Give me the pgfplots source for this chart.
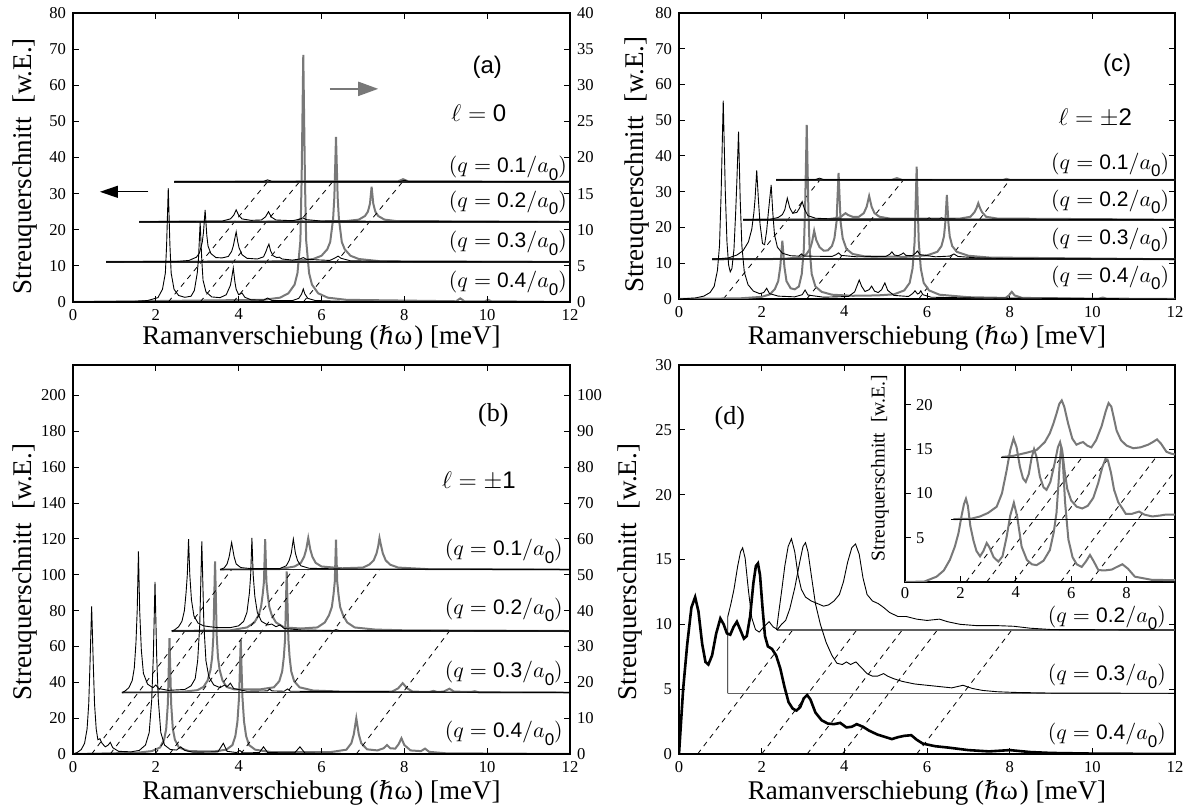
\documentclass[border=0pt]{standalone}
\usepackage{fontspec}
\setmainfont{Liberation Serif}
\newfontfamily\sfnum{Liberation Sans}
\newfontfamily\dvs{DejaVu Serif}
\usepackage{pgfplots}
\pgfplotsset{compat=1.18}
\usetikzlibrary{arrows.meta}
\definecolor{cg}{RGB}{120,120,120}
\newcommand{\ql}[1]{$(q = \mbox{\sfnum #1}/a\raisebox{-0.8ex}{\fontsize{8.5}{9}\sfnum 0})$}
\newcommand{\xl}{Ramanverschiebung ({\dvs\fontsize{12.5}{15}\selectfont ℏ}ω\kern1pt) [meV]}
\pgfplotsset{
  every axis/.append style={scale only axis, tick align=inside, major tick length=3.2pt,
    axis line style={line width=1pt}, every tick/.append style={line width=0.5pt, black},
    tick label style={font=\fontsize{8.3}{10}\selectfont},
    /pgf/number format/assume math mode=true,
    label style={font=\fontsize{13.5}{16}\selectfont}},
}
\tikzset{
  blk/.style={black, line width=0.45pt},
  gry/.style={cg, line width=1pt},
  base/.style={black!85, line width=0.9pt},
  dsh/.style={black, line width=0.4pt, dash pattern=on 2.6pt off 2.4pt},
  qlab/.style={font=\fontsize{10.5}{12}\selectfont},
}
\begin{document}
\begin{tikzpicture}
\useasboundingbox (0,0) rectangle (593pt,406pt);
%================ (a) right (gray) =================
\begin{axis}[at={(36.5pt,255pt)}, anchor=south west, width=248.5pt, height=144.5pt,
  xmin=0, xmax=12, ymin=0, ymax=40, hide x axis, axis y line*=right, ytick={0,5,...,40}]
\addplot[gry] coordinates {(0,0) (4.6,0.3) (5.0,0.6) (5.2,1.2) (5.35,2.4) (5.42,4) (5.49,8.5) (5.52,17) (5.56,34.2) (5.6,17) (5.63,8.5) (5.7,4) (5.77,2.4) (5.92,1.2) (6.15,0.6) (6.6,0.3) (9.25,0.1) (9.35,0.5) (9.45,0.1) (9.95,0.1) (10.02,0.3) (10.1,0.1) (12,0)};
\addplot[gry] coordinates {(0.8,5.55) (5.3,5.65) (5.8,5.95) (6.0,6.4) (6.14,7.3) (6.21,8.3) (6.28,11.5) (6.31,14.5) (6.35,22.85) (6.39,14.5) (6.42,11.5) (6.49,8.3) (6.56,7.3) (6.7,6.4) (6.9,5.95) (7.4,5.65) (12,5.55)};
\addplot[gry] coordinates {(1.6,11.1) (5.4,11.15) (5.48,11.5) (5.56,11.15) (6.6,11.2) (6.9,11.4) (7.05,11.9) (7.12,12.5) (7.17,13.6) (7.21,15.95) (7.25,13.6) (7.3,12.5) (7.37,11.9) (7.52,11.4) (7.8,11.2) (12,11.1)};
\addplot[gry] coordinates {(2.45,16.65) (7.85,16.7) (7.97,17.0) (8.09,16.7) (12,16.65)};
\draw[cg, line width=1pt, -{Triangle[length=10pt,width=7pt]}] (6.2,29.5) -- (7.37,29.5);
\end{axis}
%================ (a) left =================
\begin{axis}[at={(36.5pt,255pt)}, anchor=south west, width=248.5pt, height=144.5pt,
  xmin=0, xmax=12, ymin=0, ymax=80, xtick={0,2,...,12}, ytick={0,10,...,80}, ytick pos=left,
  xlabel={\xl}, ylabel={Streuquerschnitt\ \ [w.E.]},
  xlabel style={at={(axis description cs:0.5,-0.125)}, anchor=center},
  ylabel style={at={(axis description cs:-0.097,0.47)}, anchor=center}]
\draw[dsh] (2.3,0) -- (4.7,33.3);
\draw[dsh] (3.07,0) -- (5.47,33.3);
\draw[dsh] (3.87,0) -- (6.27,33.3);
\draw[dsh] (5.56,0) -- (7.96,33.3);
\draw[base] (0.8,11.1) -- (12,11.1);
\draw[base] (1.6,22.2) -- (12,22.2);
\draw[base] (2.45,33.3) -- (12,33.3);
\addplot[blk] coordinates {(0,0) (1.5,0.15) (1.8,0.4) (2.05,1.2) (2.16,3.5) (2.23,8) (2.26,15.7) (2.3,31.5) (2.34,15.7) (2.37,8) (2.44,3.5) (2.55,1.8) (2.7,1.3) (2.85,1.6) (2.93,3.2) (3.0,8) (3.03,12) (3.07,22) (3.11,11.5) (3.14,6) (3.21,2.8) (3.35,1.4) (3.55,1.2) (3.7,2.0) (3.8,4.6) (3.83,6.5) (3.87,9.4) (3.91,5.5) (3.94,3.5) (4.0,2.0) (4.08,2.5) (4.15,1.3) (4.3,0.6) (4.6,0.5) (4.7,1.1) (4.8,0.4) (5.3,0.4) (5.45,1.0) (5.52,2.2) (5.56,3.6) (5.6,2.2) (5.67,1.0) (5.85,0.4) (6.5,0.2) (8,0.1) (12,0)};
\addplot[blk] coordinates {(0.8,11.1) (2.5,11.2) (2.8,11.5) (2.98,12.4) (3.05,13.5) (3.12,16.5) (3.15,19.2) (3.19,25.5) (3.23,18.5) (3.26,15.5) (3.33,13.4) (3.45,12.3) (3.6,12.2) (3.75,12.6) (3.83,14) (3.87,15.5) (3.9,17.2) (3.94,19.4) (3.98,16.5) (4.01,15) (4.08,13.1) (4.2,12.1) (4.45,11.9) (4.6,12.5) (4.66,14) (4.69,15) (4.73,16) (4.77,14.2) (4.83,12.8) (4.92,12.3) (4.98,12.4) (5.05,11.9) (5.3,11.6) (5.48,11.9) (5.56,12.3) (5.64,11.8) (6.2,11.5) (6.33,12.2) (6.4,12.7) (6.47,12.1) (6.7,11.4) (8,11.2) (12,11.1)};
\addplot[blk] coordinates {(1.6,22.2) (3.6,22.4) (3.8,23) (3.88,24) (3.94,25.5) (4.0,24) (4.08,23) (4.3,22.6) (4.55,22.7) (4.65,23.6) (4.72,25) (4.79,23.5) (4.9,22.7) (5.3,22.5) (5.47,22.9) (5.55,23.3) (5.63,22.8) (6,22.4) (12,22.2)};
\addplot[blk] coordinates {(2.45,33.3) (4.6,33.4) (4.7,33.8) (4.8,33.4) (7.9,33.4) (8.0,33.7) (8.1,33.4) (12,33.3)};
\draw[black, line width=0.6pt, -{Triangle[length=9pt,width=6pt]}] (1.82,30.5) -- (0.65,30.5);
\node[font=\fontsize{12}{14}\sfnum] at (10.0,65) {(a)};
\node[font=\fontsize{12}{14}\selectfont] at (9.8,52.3) {$\ell = \mbox{\sfnum 0}$};
\node[qlab] at (10.5,37) {\ql{0.1}};
\node[qlab] at (10.5,27.4) {\ql{0.2}};
\node[qlab] at (10.5,16.3) {\ql{0.3}};
\node[qlab] at (10.5,5.2) {\ql{0.4}};
\end{axis}
%================ (c) =================
\begin{axis}[at={(339.5pt,256.5pt)}, anchor=south west, width=248pt, height=143pt,
  xmin=0, xmax=12, ymin=0, ymax=80, xtick={0,2,...,12}, ytick={0,10,...,80},
  xlabel={\xl}, ylabel={Streuquerschnitt\ \ [w.E.]},
  xlabel style={at={(axis description cs:0.5,-0.136)}, anchor=center},
  ylabel style={at={(axis description cs:-0.085,0.47)}, anchor=center}]
\draw[dsh] (1.07,0) -- (3.41,33.3);
\draw[dsh] (3.09,0) -- (5.43,33.3);
\draw[dsh] (5.8,0) -- (8.0,33.3);
\addplot[gry] coordinates {(0,0) (1.5,0.2) (2.0,0.6) (2.2,1.3) (2.32,2.8) (2.4,5) (2.45,9) (2.5,16.3) (2.55,9) (2.6,5) (2.7,3) (2.8,2.7) (2.9,3.5) (2.97,7) (3.02,14) (3.05,25) (3.09,48.7) (3.13,25) (3.16,14) (3.21,7) (3.3,3.5) (3.45,2) (3.7,1.2) (4.2,0.9) (4.8,1.0) (5.2,1.3) (5.45,2.4) (5.58,4.5) (5.65,8.5) (5.7,16) (5.75,37) (5.8,16) (5.85,8.5) (5.92,4.5) (6.05,2.4) (6.3,1.2) (7.0,0.5) (7.9,0.3) (7.98,1) (8.05,2) (8.12,1) (8.3,0.3) (10.15,0.1) (10.25,0.4) (10.35,0.1) (12,0)};
\addplot[gry] coordinates {(0.8,11.1) (2.5,11.2) (2.9,11.6) (3.08,12.5) (3.17,14) (3.22,16) (3.27,19.1) (3.32,16.5) (3.4,14.5) (3.5,13.5) (3.6,13.6) (3.7,14.8) (3.76,17) (3.81,21.5) (3.86,35.3) (3.91,21.5) (3.96,17) (4.05,14) (4.2,12.6) (4.5,11.9) (5.5,11.8) (6.0,12.2) (6.25,13.2) (6.35,14.8) (6.41,17.5) (6.44,21) (6.48,29.1) (6.52,21) (6.55,17.5) (6.61,14.8) (6.72,13.2) (7.0,12.1) (7.5,11.6) (12,11.1)};
\addplot[gry] coordinates {(1.55,22.2) (3.6,22.3) (3.9,22.8) (3.97,23.5) (4.03,24) (4.09,23.5) (4.2,23) (4.35,23) (4.47,24) (4.54,25.8) (4.6,28.8) (4.66,25.8) (4.73,24) (4.85,23) (5.1,22.5) (6.8,22.5) (7.05,23) (7.15,24.3) (7.2,25.5) (7.24,26.8) (7.28,25.5) (7.33,24.3) (7.43,23) (7.7,22.5) (12,22.2)};
\addplot[gry] coordinates {(2.35,33.3) (5.15,33.35) (5.27,33.8) (5.39,33.35) (7.85,33.35) (7.92,33.6) (8.0,33.35) (12,33.3)};
\draw[base] (0.8,11.1) -- (12,11.1);
\draw[base] (1.55,22.2) -- (12,22.2);
\draw[base] (2.35,33.3) -- (12,33.3);
\addplot[blk] coordinates {(0,0) (0.4,0.3) (0.6,0.8) (0.75,1.8) (0.85,3.5) (0.93,8) (0.98,15) (1.02,30) (1.07,55.5) (1.12,30) (1.16,16) (1.2,9.5) (1.24,7.6) (1.28,8.5) (1.33,14) (1.37,24) (1.40,33) (1.44,46.8) (1.48,28) (1.52,15) (1.58,7.5) (1.67,4) (1.8,2.2) (1.95,1.5) (2.05,1.8) (2.12,3) (2.19,1.5) (2.4,0.8) (2.8,0.6) (2.98,1.2) (3.05,2.5) (3.12,1.1) (3.5,0.5) (4.1,0.7) (4.25,2) (4.31,3.8) (4.36,5.3) (4.42,3.5) (4.5,2.1) (4.6,2.6) (4.66,3.6) (4.73,2.2) (4.82,1.8) (4.9,2.6) (4.98,4.5) (5.05,2.4) (5.2,1) (5.55,0.7) (5.65,1.5) (5.71,2.3) (5.77,1.4) (5.81,1.6) (5.85,2.3) (5.9,1.2) (6.1,0.5) (7,0.3) (12,0)};
\addplot[blk] coordinates {(0.8,11.1) (1.2,11.5) (1.4,12.3) (1.55,13.5) (1.68,16) (1.76,19.5) (1.81,24) (1.84,28) (1.88,36) (1.92,28) (1.96,21) (2.02,15.5) (2.07,15.2) (2.12,19) (2.16,24) (2.19,27.5) (2.23,31.9) (2.27,24) (2.31,18) (2.38,14.5) (2.5,12.8) (2.7,12.1) (2.9,12) (2.96,12.6) (3.02,12) (3.7,11.9) (3.8,12.4) (3.86,12.9) (3.92,12.2) (4.3,11.8) (5.0,11.9) (5.1,12.5) (5.15,13.2) (5.21,12.3) (5.3,12.1) (5.38,12.5) (5.43,12.9) (5.49,12.2) (5.65,12.1) (5.72,12.8) (5.77,13.4) (5.83,12.4) (6.2,11.8) (6.55,12) (6.65,12.6) (6.75,11.9) (7.2,11.5) (8,11.3) (12,11.1)};
\addplot[blk] coordinates {(1.55,22.2) (2.2,22.3) (2.4,22.8) (2.5,23.6) (2.56,25) (2.62,28.2) (2.68,25.5) (2.75,24) (2.85,24.2) (2.92,25.5) (2.98,27.2) (3.04,25) (3.12,23.3) (3.3,22.6) (3.7,22.4) (6.0,22.4) (6.05,22.7) (6.1,22.4) (6.3,22.4) (6.35,22.7) (6.4,22.4) (12,22.2)};
\addplot[blk] coordinates {(2.35,33.3) (3.3,33.4) (3.4,33.8) (3.5,33.4) (12,33.3)};
\node[font=\fontsize{12}{14}\sfnum] at (10.6,65.5) {(c)};
\node[font=\fontsize{12}{14}\selectfont] at (10.07,50.6) {$\ell = \pm\mbox{\sfnum 2}$};
\node[qlab] at (10.43,37.5) {\ql{0.1}};
\node[qlab] at (10.43,27.2) {\ql{0.2}};
\node[qlab] at (10.43,16.5) {\ql{0.3}};
\node[qlab] at (10.43,5.9) {\ql{0.4}};
\end{axis}
%================ (b) right (gray) =================
\begin{axis}[at={(36.5pt,29pt)}, anchor=south west, width=248.5pt, height=194.5pt,
  xmin=0, xmax=12, ymin=0, ymax=108.5, hide x axis, axis y line*=right, ytick={0,10,...,100}]
\addplot[gry] coordinates {(0,0) (1.5,0.3) (1.9,0.8) (2.1,1.8) (2.2,4) (2.25,7) (2.29,14) (2.33,32.3) (2.37,14) (2.41,7) (2.46,4) (2.56,1.8) (2.8,0.8) (3.4,0.7) (3.7,1.2) (3.85,2.5) (3.92,5) (3.97,9) (4.01,16) (4.05,31.85) (4.09,16) (4.13,9) (4.18,5) (4.25,2.5) (4.4,1.2) (4.8,0.5) (6.2,0.5) (6.6,1.2) (6.72,3) (6.78,5.5) (6.84,10) (6.9,5.5) (6.96,3) (7.1,1.3) (7.35,1.0) (7.5,1.6) (7.58,2.5) (7.66,1.6) (7.78,1.5) (7.86,2.7) (7.93,4.4) (8.0,2.5) (8.15,1) (8.4,0.8) (8.5,1.5) (8.6,0.6) (9,0.2) (12,0)};
\addplot[gry] coordinates {(1.18,17.15) (2.6,17.3) (3.0,17.8) (3.15,18.7) (3.25,20.5) (3.32,23.5) (3.36,27) (3.39,33) (3.43,53.7) (3.47,33) (3.5,27) (3.54,23.5) (3.61,20.5) (3.71,18.7) (3.9,18) (4.5,18) (4.85,18.6) (4.98,20.3) (5.05,23) (5.09,27) (5.12,32) (5.16,50.95) (5.2,32) (5.23,27) (5.27,23) (5.34,20.3) (5.47,18.6) (5.8,17.7) (6.5,17.4) (7.7,17.4) (7.85,18.3) (7.96,19.75) (8.07,18.3) (8.2,17.4) (8.6,17.3) (8.7,17.6) (8.8,17.3) (8.95,17.4) (9.09,18.2) (9.2,17.4) (9.6,17.3) (9.7,17.5) (9.8,17.2) (12,17.15)};
\addplot[gry] coordinates {(2.38,34.3) (3.8,34.5) (4.2,35.3) (4.38,36.7) (4.48,38.7) (4.54,41) (4.58,44.5) (4.61,48) (4.64,59.95) (4.67,48) (4.7,44.5) (4.74,41) (4.8,38.7) (4.9,36.7) (5.1,35.3) (5.5,35) (5.9,35.3) (6.08,36.7) (6.18,38.7) (6.25,41) (6.29,44.5) (6.32,48) (6.35,59.8) (6.38,48) (6.41,44.5) (6.45,41) (6.52,38.7) (6.62,36.7) (6.8,35.3) (7.3,34.7) (8,34.5) (12,34.3)};
\addplot[gry] coordinates {(3.55,51.45) (5.0,51.6) (5.35,52.3) (5.5,53.3) (5.58,55) (5.63,57) (5.68,60.25) (5.73,57) (5.78,55) (5.86,53.3) (6.0,52.3) (6.5,51.8) (7.0,52.0) (7.15,52.8) (7.26,54) (7.33,56) (7.37,58) (7.4,60.25) (7.44,58) (7.48,56) (7.55,54) (7.66,52.8) (7.85,52) (8.5,51.6) (12,51.45)};
\end{axis}
%================ (b) left =================
\begin{axis}[at={(36.5pt,29pt)}, anchor=south west, width=248.5pt, height=194.5pt,
  xmin=0, xmax=12, ymin=0, ymax=217, xtick={0,2,...,12}, ytick={0,20,...,200}, ytick pos=left,
  xlabel={\xl}, ylabel={Streuquerschnitt\ \ [w.E.]},
  xlabel style={at={(axis description cs:0.5,-0.1)}, anchor=center},
  ylabel style={at={(axis description cs:-0.097,0.468)}, anchor=center}]
\draw[dsh] (0.45,0) -- (3.83,102.9);
\draw[dsh] (0.9,0) -- (3.15,68.6);
\draw[dsh] (1.98,0) -- (5.32,102.9);
\draw[dsh] (2.33,0) -- (5.68,102.9);
\draw[dsh] (4.05,0) -- (7.4,102.9);
\draw[dsh] (6.84,0) -- (9.09,68.6);
\draw[base] (1.18,34.3) -- (12,34.3);
\draw[base] (2.38,68.6) -- (12,68.6);
\draw[base] (3.55,102.9) -- (12,102.9);
\addplot[blk] coordinates {(0,0) (0.1,0.8) (0.2,2.5) (0.28,6) (0.34,14) (0.38,28) (0.41,50) (0.45,82.4) (0.49,50) (0.52,28) (0.56,14) (0.6,8) (0.65,8.5) (0.7,6) (0.78,4) (0.85,5) (0.9,6.5) (0.96,3.5) (1.1,1.5) (1.4,1.2) (1.6,2) (1.75,5) (1.84,12) (1.9,30) (1.94,55) (1.98,96) (2.02,55) (2.06,30) (2.12,12) (2.21,5) (2.35,2.5) (2.5,2.2) (2.6,4) (2.7,2) (2.9,1) (3.5,1.2) (3.63,6) (3.72,1.5) (3.95,0.8) (4.03,2) (4.1,0.6) (4.5,0.8) (4.6,4) (4.7,0.8) (5.35,0.6) (5.48,4) (5.6,0.5) (6.5,0.3) (12,0)};
\addplot[blk] coordinates {(1.18,34.3) (1.25,35) (1.35,37) (1.43,41) (1.48,48) (1.52,62) (1.55,80) (1.58,113) (1.61,80) (1.65,58) (1.7,45) (1.8,39) (1.93,37) (2.0,38.5) (2.07,36.5) (2.3,35.5) (2.7,36) (2.85,38) (2.95,42) (3.01,52) (3.06,72) (3.11,118.6) (3.16,72) (3.21,52) (3.28,43) (3.4,38.5) (3.55,37) (3.66,38.5) (3.72,37.5) (3.8,39.5) (3.88,36.5) (4.2,35) (4.7,35.2) (4.75,36.3) (4.8,35.2) (5.1,35) (5.18,36.3) (5.25,35) (12,34.3)};
\addplot[blk] coordinates {(2.38,68.6) (2.45,69.2) (2.55,71) (2.63,74) (2.69,80) (2.73,90) (2.76,100) (2.79,119.9) (2.82,100) (2.86,86) (2.92,77) (3.02,73) (3.15,71.5) (3.3,71) (3.5,70.5) (3.8,70.5) (4.0,71.5) (4.12,74) (4.2,79) (4.26,90) (4.29,100) (4.32,120.5) (4.35,100) (4.39,88) (4.45,79) (4.55,74) (4.7,72) (4.8,72.5) (4.9,71) (5.0,72) (5.1,70) (5.5,69.2) (6.3,68.9) (6.35,69.4) (6.42,68.9) (12,68.6)};
\addplot[blk] coordinates {(3.55,102.9) (3.65,103.8) (3.72,106) (3.77,110) (3.83,118) (3.89,110) (3.94,106) (4.05,104) (4.3,103.4) (5.0,103.5) (5.15,105) (5.22,108) (5.27,112) (5.32,119.9) (5.37,112) (5.42,108) (5.5,105) (5.7,103.6) (6.5,103.2) (12,102.9)};
\node[font=\fontsize{13}{15}\selectfont] at (10.15,189) {(b)};
\node[font=\fontsize{12}{14}\selectfont] at (9.8,152) {$\ell = \pm\mbox{\sfnum 1}$};
\node[qlab] at (10.4,113) {\ql{0.1}};
\node[qlab] at (10.4,80.4) {\ql{0.2}};
\node[qlab] at (10.4,45) {\ql{0.3}};
\node[qlab] at (10.4,11.5) {\ql{0.4}};
\end{axis}
%================ (d) =================
\begin{axis}[at={(339.5pt,29pt)}, anchor=south west, width=248pt, height=194.5pt,
  xmin=0, xmax=12, ymin=0, ymax=30, xtick={0,2,...,12}, ytick={0,5,...,30},
  xlabel={\xl}, ylabel={Streuquerschnitt\ \ [w.E.]},
  xlabel style={at={(axis description cs:0.5,-0.1)}, anchor=center},
  ylabel style={at={(axis description cs:-0.099,0.468)}, anchor=center}]
\draw[dsh] (0.45,0) -- (2.75,9.56);
\draw[dsh] (2.0,0) -- (4.3,9.56);
\draw[dsh] (3.1,0) -- (5.4,9.56);
\draw[dsh] (3.95,0) -- (6.25,9.56);
\draw[dsh] (5.75,0) -- (8.05,9.56);
\draw[cg!80!black, line width=0.6pt] (1.18,4.68) -- (12,4.68);
\draw[cg!80!black, line width=0.6pt] (2.36,9.56) -- (12,9.56);
\addplot[black, line width=1.3pt] coordinates {(0,0) (0.05,2.5) (0.1,5) (0.2,8.5) (0.3,11.3) (0.39,12.1) (0.47,11) (0.56,8.5) (0.64,7.1) (0.71,6.9) (0.8,7.6) (0.9,9.3) (1.0,10.45) (1.08,10) (1.16,9.3) (1.24,9.2) (1.32,9.8) (1.4,10.2) (1.48,9.6) (1.57,8.9) (1.64,9.1) (1.72,10.6) (1.8,13.2) (1.86,14.5) (1.91,14.7) (1.96,13.8) (2.02,11.3) (2.08,9.1) (2.15,8.3) (2.25,8.1) (2.35,7.6) (2.45,6.6) (2.55,5.2) (2.65,4.0) (2.75,3.5) (2.84,3.35) (2.93,3.6) (3.02,4.3) (3.1,4.55) (3.18,4.2) (3.3,3.2) (3.45,2.6) (3.6,2.35) (3.75,2.3) (3.9,2.4) (4.05,2.05) (4.18,2.1) (4.3,2.3) (4.45,2.1) (4.6,1.8) (4.8,1.5) (5.0,1.3) (5.15,1.15) (5.3,1.3) (5.45,1.4) (5.62,1.45) (5.75,1.1) (5.9,0.8) (6.2,0.6) (6.5,0.5) (7.0,0.3) (7.5,0.2) (8.0,0.3) (8.5,0.15) (9.0,0.08) (10,0.03) (12,0)};
\addplot[blk] coordinates {(1.18,4.68) (1.18,10.6) (1.25,11.5) (1.33,12.7) (1.42,14.5) (1.49,15.6) (1.54,15.9) (1.6,15.1) (1.68,12.6) (1.76,10.5) (1.85,9.6) (1.94,9.4) (2.05,9.8) (2.18,10.2) (2.28,9.8) (2.38,9.6) (2.48,10.0) (2.58,10.3) (2.68,11.2) (2.8,12.8) (2.92,14.8) (3.0,16) (3.06,16.3) (3.12,15.6) (3.2,13.8) (3.3,11.6) (3.42,10) (3.56,8.6) (3.7,7.6) (3.82,7.0) (3.95,6.9) (4.05,7.1) (4.15,6.9) (4.28,7.1) (4.4,6.7) (4.55,6.2) (4.68,6.0) (4.8,6.0) (4.95,6.2) (5.05,6.0) (5.2,5.8) (5.4,5.6) (5.7,5.4) (6.0,5.3) (6.3,5.2) (6.6,5.1) (6.87,5.3) (7.1,5.05) (7.35,4.9) (7.7,4.8) (8.1,4.75) (9,4.7) (12,4.68)};
\addplot[blk] coordinates {(2.36,9.56) (2.4,10.6) (2.48,12.5) (2.56,14.5) (2.64,16) (2.72,16.6) (2.8,15.6) (2.88,13.8) (2.96,12.7) (3.06,12.1) (3.2,11.8) (3.35,11.6) (3.5,11.4) (3.62,11.5) (3.75,11.8) (3.88,12.3) (3.98,13.3) (4.08,14.8) (4.18,15.9) (4.27,16.2) (4.36,15.4) (4.45,13.6) (4.55,12.3) (4.68,11.8) (4.82,11.6) (4.95,11.3) (5.1,10.9) (5.3,10.6) (5.5,10.6) (5.75,10.4) (6.0,10.3) (6.3,10.4) (6.5,10.2) (6.8,10.0) (7.2,9.9) (7.7,9.9) (8.1,9.85) (8.5,9.7) (9.0,9.6) (12,9.56)};
\node[font=\fontsize{13}{15}\selectfont] at (1.23,25.9) {(d)};
\node[qlab] at (10.35,10.5) {\ql{0.2}};
\node[qlab] at (10.35,5.96) {\ql{0.3}};
\node[qlab] at (10.35,1.46) {\ql{0.4}};
\end{axis}
%================ inset =================
\begin{axis}[at={(452.5pt,115pt)}, anchor=south west, width=135pt, height=108.5pt,
  axis background/.style={fill=white},
  xmin=0, xmax=9.75, ymin=0, ymax=24.5, xtick={0,2,4,6,8}, ytick={5,10,15,20},
  yticklabel style={anchor=west, xshift=2pt},
  xticklabel style={yshift=1pt},
  ylabel={Streuquerschnitt\ \ [w.E.]},
  ylabel style={font=\fontsize{9.8}{11}\selectfont, at={(axis description cs:-0.093,0.525)}, anchor=center}]
\draw[dsh] (2.2,0) -- (5.65,14.1);
\draw[dsh] (2.95,0) -- (6.4,14.1);
\draw[dsh] (3.93,0) -- (7.38,14.1);
\draw[dsh] (5.62,0) -- (9.07,14.1);
\draw[dsh] (6.68,0) -- (9.75,12.55);
\addplot[gry] coordinates {(0,0) (0.7,0.05) (1.14,0.6) (1.4,1.3) (1.62,2.5) (1.8,4.0) (1.93,5.5) (2.05,7.6) (2.13,8.8) (2.2,9.4) (2.27,8.6) (2.36,6.3) (2.47,4.7) (2.58,3.5) (2.71,2.9) (2.83,3.5) (2.95,4.4) (3.05,3.9) (3.2,2.8) (3.37,2.3) (3.52,2.9) (3.67,5.1) (3.8,7.5) (3.93,8.95) (4.05,7.4) (4.21,4.0) (4.4,2.5) (4.58,2.0) (4.75,1.9) (5.0,2.4) (5.23,3.6) (5.37,5.6) (5.47,7.8) (5.54,11.0) (5.6,14.0) (5.64,15.3) (5.7,13.5) (5.78,9.0) (5.9,4.8) (6.05,2.8) (6.2,2.0) (6.38,1.7) (6.53,2.3) (6.68,3.05) (6.82,2.3) (6.98,1.35) (7.2,1.3) (7.46,1.4) (7.65,1.7) (7.85,2.0) (8.05,1.5) (8.3,0.6) (8.9,0.25) (9.75,0.2)};
\addplot[gry] coordinates {(1.75,7.1) (2.4,7.15) (2.71,7.4) (3.0,7.8) (3.31,8.5) (3.5,10.0) (3.67,12.6) (3.8,14.9) (3.92,16.2) (4.03,15.2) (4.15,13.0) (4.26,11.7) (4.36,11.3) (4.47,12.2) (4.57,14.0) (4.66,15.0) (4.76,14.0) (4.87,11.9) (5.0,10.7) (5.11,10.4) (5.25,11.3) (5.41,13.5) (5.52,15.2) (5.6,15.8) (5.68,14.8) (5.76,12.6) (5.86,10.5) (6.0,9.2) (6.2,8.5) (6.4,8.3) (6.6,8.6) (6.8,9.5) (6.98,11.2) (7.12,12.9) (7.24,13.9) (7.33,13.7) (7.44,12.3) (7.55,10.4) (7.7,9.0) (7.85,8.3) (7.97,7.7) (8.2,7.7) (8.45,7.95) (8.65,7.6) (8.93,7.4) (9.2,7.5) (9.4,7.6) (9.75,7.6)};
\addplot[gry] coordinates {(3.49,14.1) (3.92,14.25) (4.4,14.6) (4.75,14.9) (5.05,15.8) (5.23,16.8) (5.36,17.9) (5.47,19.0) (5.57,20.1) (5.66,20.5) (5.75,19.8) (5.89,17.9) (6.04,16.2) (6.19,15.5) (6.33,15.7) (6.43,15.8) (6.58,15.4) (6.73,15.2) (6.9,16.0) (7.1,17.6) (7.25,19.3) (7.35,20.2) (7.45,19.8) (7.55,18.4) (7.64,17.1) (7.8,16.0) (8.0,15.4) (8.24,15.1) (8.5,15.2) (8.78,15.5) (8.95,15.8) (9.1,16.1) (9.25,15.6) (9.44,14.7) (9.6,14.5) (9.75,14.4)};
\draw[black, line width=0.6pt] (1.65,7.05) -- (9.75,7.05);
\draw[black, line width=0.6pt] (3.45,14.1) -- (9.75,14.1);
\end{axis}
\end{tikzpicture}
\end{document}
